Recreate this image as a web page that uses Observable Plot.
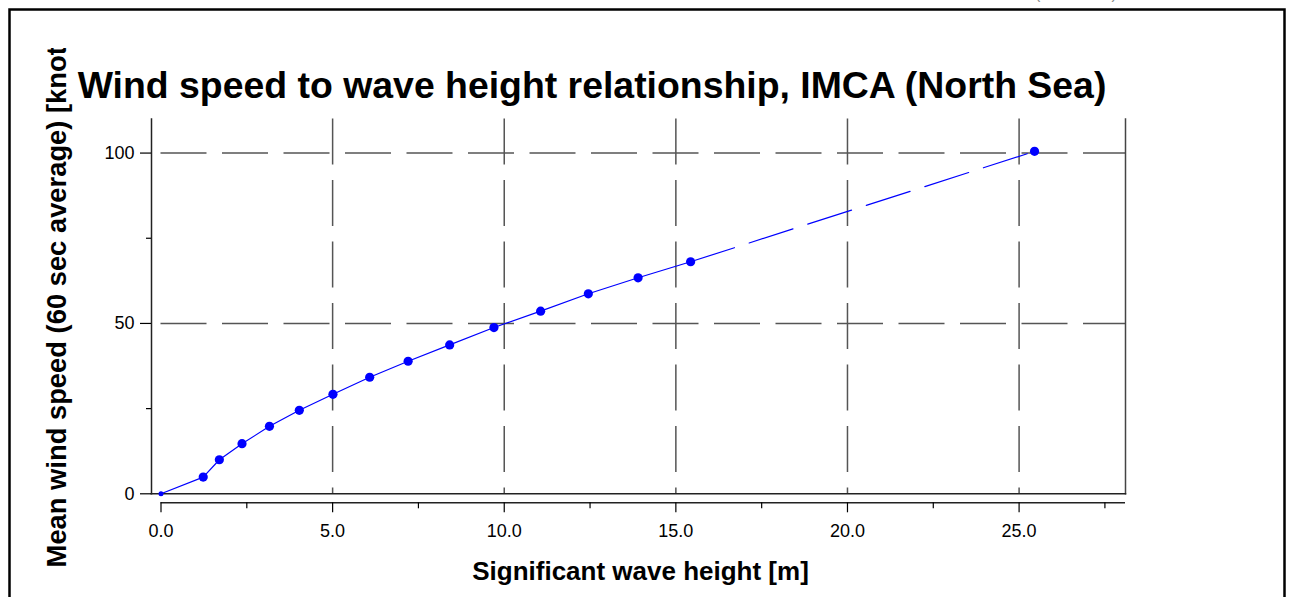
<!DOCTYPE html>
<html><head><meta charset="utf-8">
<script src="https://cdn.jsdelivr.net/npm/d3@7"></script>
<script src="https://cdn.jsdelivr.net/npm/@observablehq/plot@0.6"></script>
<style>
html,body{margin:0;padding:0;background:#fff;overflow:hidden}
#chart{position:relative;width:1291px;height:597px;overflow:hidden}
#chart svg{display:block}
</style></head><body><div id="chart"></div>
<script>
// Measured series (solid line with dots)
const waveHeight = [0, 1.23, 1.70, 2.36, 3.16, 4.03, 5.01, 6.08, 7.20, 8.41, 9.70, 11.06, 12.45, 13.90, 15.43];
const windSpeed  = [0, 4.9, 10.0, 14.7, 19.8, 24.5, 29.2, 34.2, 38.9, 43.7, 48.8, 53.6, 58.7, 63.4, 68.1];
// Extrapolated segment (dashed line)
const extrapWave = [15.43, 25.45];
const extrapWind = [68.1, 100.5];
// Axes
const xTicks = [0, 5, 10, 15, 20, 25];
const xMinorTicks = [2.5, 7.5, 12.5, 17.5, 22.5, 27.5];
const xGridTicks = [5, 10, 15, 20, 25];
const yTicks = [0, 50, 100];
const yMinorTicks = [25, 75];
const yGridTicks = [50, 100];
const xDomain = [0, 28.1];
const yDomain = [0, 110];
const titleText = "Wind speed to wave height relationship, IMCA (North Sea)";
const xLabel = "Significant wave height [m]";
const yLabel = "Mean wind speed (60 sec average) [knots]";

const measured = waveHeight.map((x, i) => ({x, y: windSpeed[i]}));
const extrap = extrapWave.map((x, i) => ({x, y: extrapWind[i]}));
const font = "'Liberation Sans', Arial, sans-serif";
const blue = "#0000ff";
const gridStyle = {stroke: "#555", strokeOpacity: 1, strokeWidth: 1.5, strokeDasharray: "46,15.5"};

const plot = Plot.plot({
  width: 1291, height: 597,
  marginLeft: 151, marginRight: 166, marginTop: 118.5, marginBottom: 103.7,
  style: {fontFamily: font, background: "#fff", color: "#000", overflow: "visible"},
  x: {domain: xDomain, insetLeft: 9.5},
  y: {domain: yDomain},
  marks: [
    Plot.gridX(xGridTicks, gridStyle),
    Plot.gridY(yGridTicks, {...gridStyle, insetLeft: 9.5}),
    Plot.frame({anchor: "left", stroke: "#222", strokeWidth: 1.5}),
    Plot.frame({anchor: "right", stroke: "#444", strokeWidth: 1.5}),
    Plot.frame({anchor: "bottom", stroke: "#222", strokeWidth: 1.5}),
    Plot.axisY(yTicks, {tickSize: 11, tickPadding: 6, fontSize: 18, label: null, strokeWidth: 1.2}),
    Plot.axisY(yMinorTicks, {tickSize: 5, tickFormat: () => "", label: null, strokeWidth: 1.2}),
    Plot.ruleY([0], {x1: xDomain[0], x2: xDomain[1], dy: 9, stroke: "#222", strokeWidth: 1.5}),
    Plot.axisX(xTicks, {tickSize: 10, tickPadding: 11, dy: 9, fontSize: 18, tickFormat: d3.format(".1f"), label: null, strokeWidth: 1.2}),
    Plot.axisX(xMinorTicks, {tickSize: 6, dy: 9, tickFormat: () => "", label: null, strokeWidth: 1.2}),
    Plot.line(measured, {x: "x", y: "y", stroke: blue, strokeWidth: 1.2}),
    Plot.line(extrap, {x: "x", y: "y", stroke: blue, strokeWidth: 1.2, strokeDasharray: "46,15.5"}),
    Plot.dot(measured.slice(1), {x: "x", y: "y", r: 4.6, fill: blue}),
    Plot.dot(measured.slice(0, 1), {x: "x", y: "y", r: 2.5, fill: blue}),
    Plot.dot(extrap.slice(1), {x: "x", y: "y", r: 4.6, fill: blue}),
    Plot.text([titleText], {frameAnchor: "top", dx: -46.5, dy: -32.5, lineAnchor: "middle", fontSize: 37.4, fontWeight: "bold", fill: "#000"}),
    Plot.text([xLabel], {frameAnchor: "bottom", dx: 2, dy: 77.7, lineAnchor: "middle", fontSize: 26, fontWeight: "bold", fill: "#000"}),
    Plot.text([yLabel], {frameAnchor: "left", rotate: -90, textAnchor: "start", lineAnchor: "middle", dx: -94, dy: 261, fontSize: 27.35, fontWeight: "bold", fill: "#000", className: "ylabel"})
  ]
});
document.getElementById("chart").appendChild(plot);

const svg = d3.select(plot);
const defs = svg.append("defs");
defs.append("clipPath").attr("id", "ylabel-clip").attr("clipPathUnits", "userSpaceOnUse")
  .append("rect").attr("x", 0).attr("y", 48).attr("width", 1291).attr("height", 600);
// wrap the y label in an untransformed group so the clip is in page coordinates
const yl = plot.querySelector(".ylabel");
const wrap = svg.append("g").attr("clip-path", "url(#ylabel-clip)");
wrap.node().appendChild(yl);
svg.append("rect").attr("x", 9.5).attr("y", 9.5).attr("width", 1275).attr("height", 700)
  .attr("fill", "none").attr("stroke", "#000").attr("stroke-width", 2.5);
svg.append("text").attr("x", 1035).attr("y", -1).attr("fill", "#888")
  .attr("text-anchor", "start")
  .attr("font-family", font).attr("font-size", 16).style("white-space", "pre")
  .text("(                )");
</script>
</body></html>
